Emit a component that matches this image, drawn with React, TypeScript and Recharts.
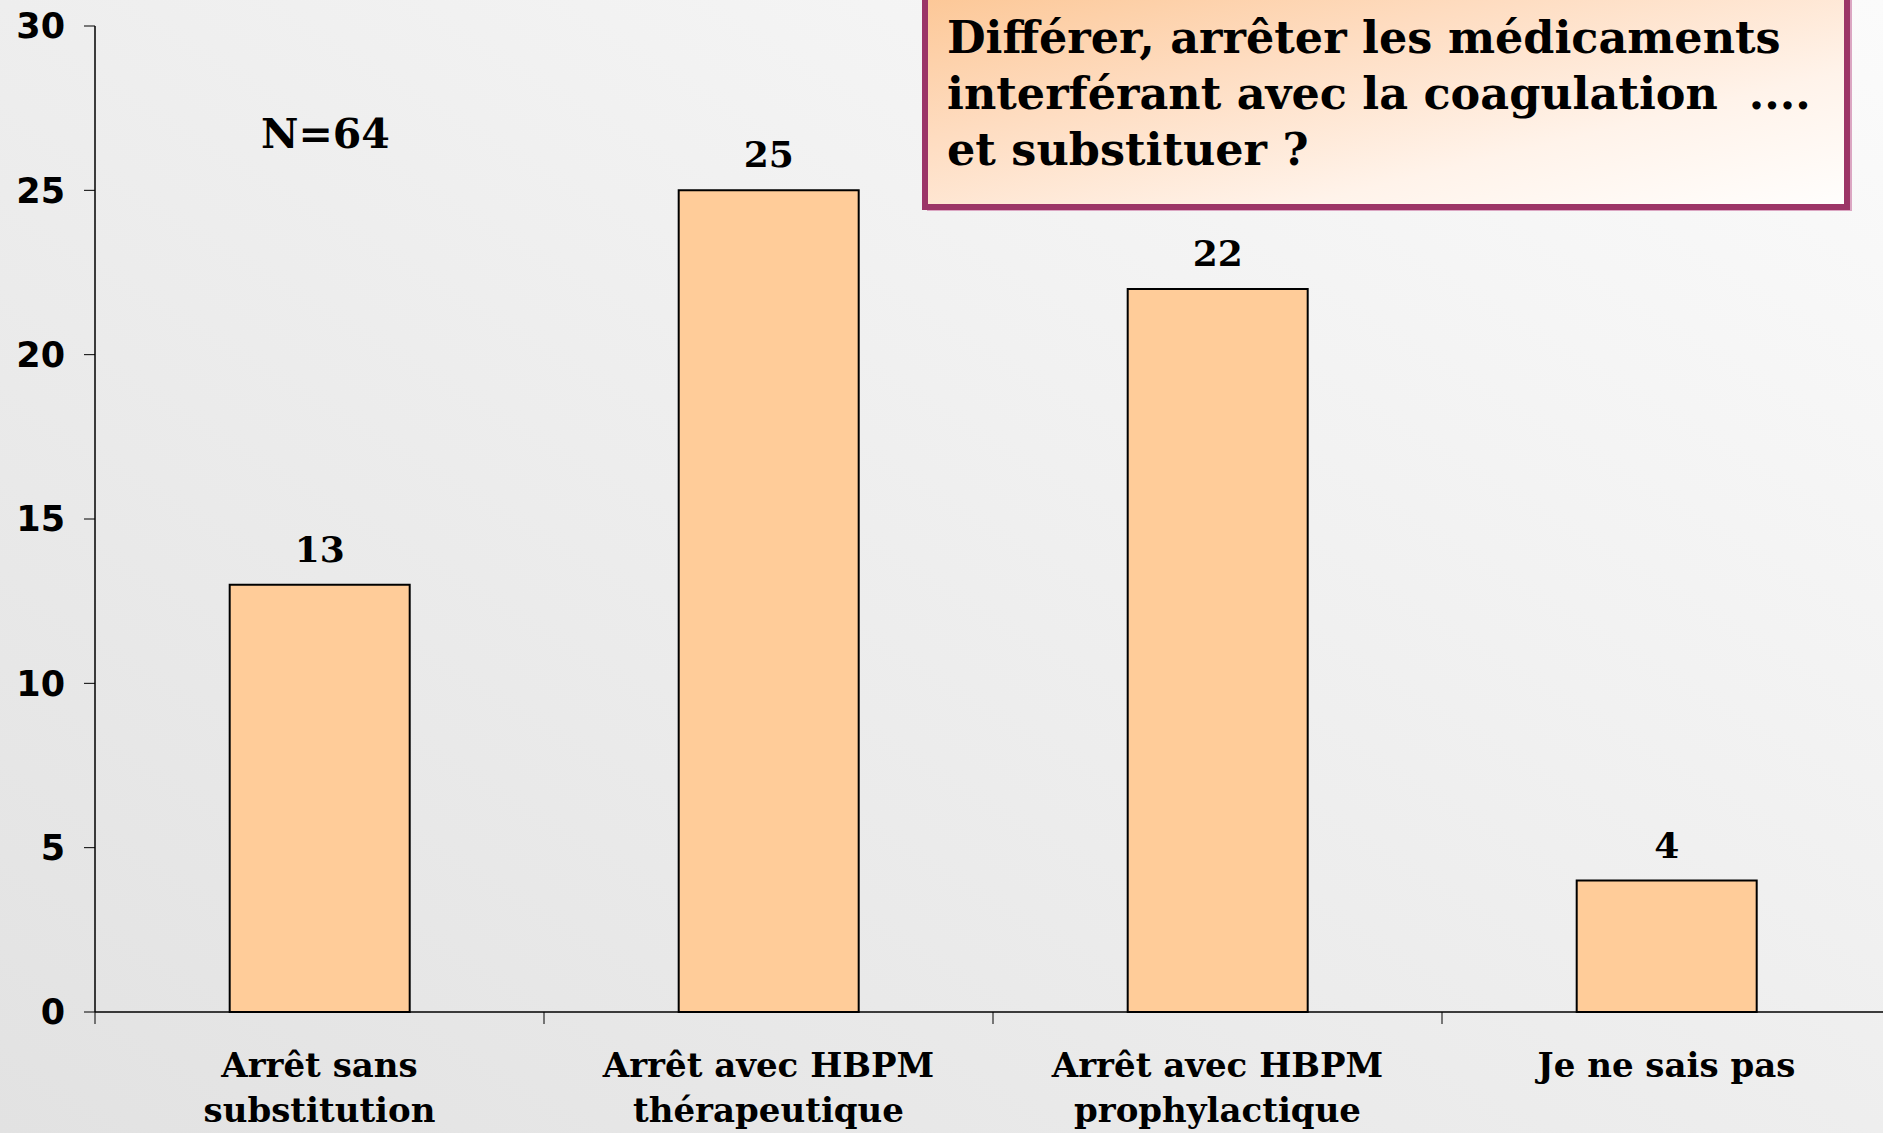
import React from "react";
import { BarChart, Bar, XAxis, YAxis, LabelList } from "recharts";

const categories = [
  "Arrêt sans\nsubstitution",
  "Arrêt avec HBPM\nthérapeutique",
  "Arrêt avec HBPM\nprophylactique",
  "Je ne sais pas",
];
const responses = [13, 25, 22, 4];
const yTicks = [0, 5, 10, 15, 20, 25, 30];
const sampleLabel = "N=64";
const titleLines = [
  "Différer, arrêter les médicaments",
  "interférant avec la coagulation  ....",
  "et substituer ?",
];

const data = categories.map((c, i) => ({ category: c, value: responses[i] }));

const SERIF = "'DejaVu Serif', serif";
const SANS = "'DejaVu Sans', sans-serif";

function CategoryTick(props: any) {
  const { x, y, payload, width, visibleTicksCount } = props;
  const lines = String(payload.value).split("\n");
  let half = payload && typeof payload.offset === "number" && payload.offset > 0 ? payload.offset : 0;
  if (!half && width && visibleTicksCount) half = width / visibleTicksCount / 2;
  return (
    <g>
      <line x1={x - half} y1={y} x2={x - half} y2={y + 12} stroke="#000" strokeWidth={1} />
      <text
        x={x}
        y={y}
        textAnchor="middle"
        fontFamily={SERIF}
        fontWeight={700}
        fontSize={34}
        fill="#000"
      >
        {lines.map((l, i) => (
          <tspan key={i} x={x} dy={i === 0 ? 65 : 45}>
            {l}
          </tspan>
        ))}
      </text>
    </g>
  );
}

export default function App() {
  return (
    <div
      style={{
        position: "fixed",
        left: 0,
        top: 0,
        width: 1883,
        height: 1133,
        overflow: "hidden",
        background: "linear-gradient(to top right, #e2e2e2 0%, #eeeeee 50%, #fbfbfb 100%)",
      }}
    >
      <BarChart
        width={1900}
        height={1133}
        data={data}
        margin={{ top: 26, right: 9, left: 0, bottom: 120 }}
        barCategoryGap="30%"
      >
        <XAxis
          dataKey="category"
          height={1}
          interval={0}
          tickSize={0}
          tickMargin={0}
          axisLine={{ stroke: "#000", strokeWidth: 1.5 }}
          tickLine={false}
          tick={CategoryTick}
        />
        <YAxis
          width={95}
          domain={[0, 30]}
          ticks={yTicks}
          interval={0}
          tickSize={11}
          tickMargin={19}
          axisLine={{ stroke: "#000", strokeWidth: 1.5 }}
          tickLine={{ stroke: "#000", strokeWidth: 1 }}
          tick={{ fill: "#000", fontSize: 35, fontFamily: SANS, fontWeight: 700 }}
        />
        <Bar
          dataKey="value"
          fill="#ffcc99"
          stroke="#000"
          strokeWidth={2}
          isAnimationActive={false}
        >
          <LabelList
            dataKey="value"
            position="top"
            offset={23}
            fill="#000"
            fontSize={36}
            fontFamily={SERIF}
            fontWeight={700}
          />
        </Bar>
      </BarChart>
      <svg
        width={1883}
        height={1133}
        style={{ position: "absolute", left: 0, top: 0, pointerEvents: "none" }}
      >
        <defs>
          <linearGradient id="boxFill" x1="0" y1="0" x2="1" y2="1">
            <stop offset="0%" stopColor="#fcc592" />
            <stop offset="35%" stopColor="#fedcc0" />
            <stop offset="70%" stopColor="#fff3ea" />
            <stop offset="100%" stopColor="#fffefd" />
          </linearGradient>
        </defs>
        <text
          x={261}
          y={148}
          fontFamily={SERIF}
          fontWeight={700}
          fontSize={41}
          fill="#000"
        >
          {sampleLabel}
        </text>
        <rect x={927} y={-18} width={925} height={229} fill="#dba6c2" />
        <rect
          x={925}
          y={-20}
          width={922}
          height={227}
          fill="url(#boxFill)"
          stroke="#9c3567"
          strokeWidth={6}
        />
        {titleLines.map((t, i) => (
          <text
            key={i}
            x={947}
            y={53 + i * 56}
            fontFamily={SERIF}
            fontWeight={700}
            fontSize={44.5}
            fill="#000"
            style={{ whiteSpace: "pre" }}
          >
            {t}
          </text>
        ))}
      </svg>
    </div>
  );
}
